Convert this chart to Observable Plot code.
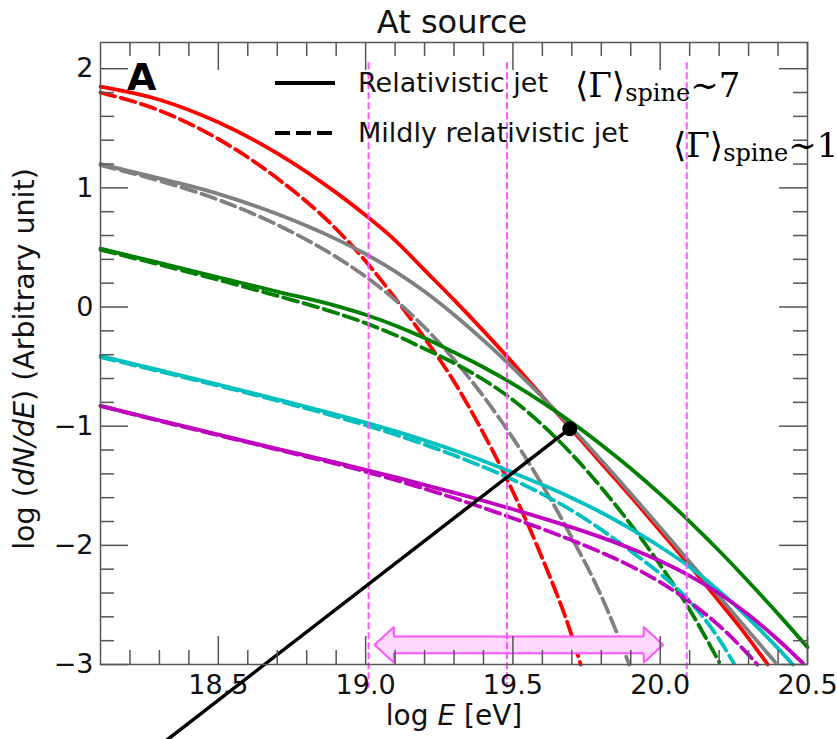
<!DOCTYPE html>
<html>
<head>
<meta charset="utf-8">
<script src="https://cdn.jsdelivr.net/npm/d3@7"></script>
<script src="https://cdn.jsdelivr.net/npm/@observablehq/plot@0.6"></script>
<style>
  html, body { margin: 0; padding: 0; background: #fff; overflow: hidden; }
  #chart svg { display: block; }
</style>
</head>
<body>
<div id="chart"></div>
<script>
// Spectra at the source: log(dN/dE) against log E, for each composition,
// relativistic (solid) and mildly relativistic (dashed) jets.
const redSolid = [[18.1,1.85],[18.3,1.74],[18.5,1.55],[18.7,1.29],[18.9,0.96],[19.0,0.77],[19.1,0.56],[19.2,0.31],[19.3,0.06],[19.4,-0.20],[19.5,-0.47],[19.6,-0.75],[19.7,-1.03],[19.8,-1.31],[19.9,-1.59],[20.0,-1.88],[20.1,-2.17],[20.2,-2.47],[20.3,-2.78],[20.365,-3.0]];
const redDashed = [[18.1,1.80],[18.3,1.65],[18.5,1.41],[18.7,1.08],[18.9,0.655],[19.0,0.385],[19.1,0.075],[19.2,-0.26],[19.3,-0.625],[19.4,-1.06],[19.5,-1.55],[19.6,-2.11],[19.7,-2.76],[19.73,-3.0]];
const graySolid = [[18.1,1.20],[18.3,1.08],[18.5,0.95],[18.7,0.78],[18.9,0.57],[19.0,0.445],[19.1,0.30],[19.2,0.13],[19.3,-0.065],[19.4,-0.28],[19.5,-0.51],[19.6,-0.755],[19.7,-1.015],[19.8,-1.285],[19.9,-1.565],[20.0,-1.85],[20.1,-2.14],[20.2,-2.43],[20.3,-2.72],[20.39,-2.98]];
const grayDashed = [[18.1,1.19],[18.3,1.06],[18.5,0.90],[18.7,0.69],[18.9,0.42],[19.0,0.255],[19.1,0.06],[19.2,-0.17],[19.3,-0.44],[19.4,-0.75],[19.5,-1.10],[19.6,-1.495],[19.7,-1.935],[19.8,-2.425],[19.895,-3.0]];
const greenSolid = [[18.1,0.49],[18.3,0.37],[18.5,0.25],[18.7,0.13],[18.9,0.01],[19.0,-0.065],[19.1,-0.155],[19.2,-0.26],[19.3,-0.38],[19.4,-0.505],[19.5,-0.645],[19.6,-0.80],[19.7,-0.97],[19.8,-1.155],[19.9,-1.355],[20.0,-1.57],[20.1,-1.80],[20.2,-2.045],[20.3,-2.305],[20.4,-2.575],[20.5,-2.855]];
const greenDashed = [[18.1,0.48],[18.3,0.356],[18.5,0.228],[18.7,0.094],[18.9,-0.05],[19.0,-0.135],[19.1,-0.235],[19.2,-0.35],[19.3,-0.47],[19.4,-0.61],[19.5,-0.78],[19.6,-0.99],[19.7,-1.235],[19.8,-1.515],[19.9,-1.825],[20.0,-2.165],[20.1,-2.54],[20.2,-2.98]];
const cyanSolid = [[18.1,-0.41],[18.3,-0.53],[18.5,-0.65],[18.7,-0.774],[18.9,-0.902],[19.0,-0.97],[19.1,-1.042],[19.2,-1.119],[19.3,-1.202],[19.4,-1.292],[19.5,-1.39],[19.6,-1.492],[19.7,-1.602],[19.8,-1.724],[19.9,-1.862],[20.0,-2.012],[20.1,-2.182],[20.2,-2.382],[20.3,-2.612],[20.4,-2.865],[20.45,-3.0]];
const cyanDashed = [[18.1,-0.42],[18.3,-0.54],[18.5,-0.66],[18.7,-0.786],[18.9,-0.92],[19.0,-0.992],[19.1,-1.07],[19.2,-1.154],[19.3,-1.244],[19.4,-1.342],[19.5,-1.45],[19.6,-1.57],[19.7,-1.708],[19.8,-1.868],[19.9,-2.048],[20.0,-2.238],[20.1,-2.468],[20.2,-2.788],[20.25,-2.99]];
const magentaSolid = [[18.1,-0.83],[18.3,-0.95],[18.5,-1.07],[18.7,-1.19],[18.9,-1.306],[19.0,-1.366],[19.1,-1.428],[19.2,-1.492],[19.3,-1.558],[19.4,-1.626],[19.5,-1.697],[19.6,-1.771],[19.7,-1.849],[19.8,-1.933],[19.9,-2.026],[20.0,-2.132],[20.1,-2.256],[20.2,-2.404],[20.3,-2.582],[20.4,-2.792],[20.485,-2.99]];
const magentaDashed = [[18.1,-0.83],[18.3,-0.956],[18.5,-1.076],[18.7,-1.196],[18.9,-1.316],[19.0,-1.381],[19.1,-1.451],[19.2,-1.525],[19.3,-1.603],[19.4,-1.685],[19.5,-1.772],[19.6,-1.862],[19.7,-1.957],[19.8,-2.059],[19.9,-2.174],[20.0,-2.309],[20.1,-2.474],[20.2,-2.674],[20.3,-2.919],[20.33,-3.0]];

// Energy markers, the highlighted range and the pointer.
const cutEnergies = [19.01, 19.48, 20.09];
const rangeSpan = [19.03, 20.01];
const rangeLevel = -2.835;
const pointerHead = [19.693, -1.021];
const pointerTail = [18.28, -3.72];

// Axis ticks and labels.
const xDomain = [18.1, 20.5];
const yDomain = [-3, 2.22];
const xMajor = [18.5, 19.0, 19.5, 20.0, 20.5];
const yMajor = [-3, -2, -1, 0, 1, 2];
const xMinor = d3.range(182, 205).filter(d => d % 5 !== 0).map(d => d / 10);
const yMinor = d3.range(-14, 11).filter(d => d % 5 !== 0).map(d => d / 5);

const legendLabels = ["Relativistic jet", "Mildly relativistic jet"];
const gammaValues = ["7", "1"];

// Layout
const W = 837, H = 739;
const margin = {top: 42, right: 30, bottom: 75, left: 100};
const innerW = W - margin.left - margin.right;
const innerH = H - margin.top - margin.bottom;
const axisColor = "#555";
const pink = "#ff55ff";
const dashed = "15,6";
const lw = 3.8;

const series = [
  {data: redSolid, color: "#ff0000", dash: null},
  {data: redDashed, color: "#ff0000", dash: dashed},
  {data: graySolid, color: "#808080", dash: null},
  {data: grayDashed, color: "#808080", dash: dashed},
  {data: greenSolid, color: "#008000", dash: null},
  {data: greenDashed, color: "#008000", dash: dashed},
  {data: cyanSolid, color: "#00bfbf", dash: null},
  {data: cyanDashed, color: "#00bfbf", dash: dashed},
  {data: magentaSolid, color: "#bf00bf", dash: null},
  {data: magentaDashed, color: "#bf00bf", dash: dashed}
];

// Outline of the double-headed block arrow spanning rangeSpan.
const headLen = 0.066, headHalf = 0.15, shaftHalf = 0.07;
const [a0, a1] = rangeSpan, ay = rangeLevel;
const arrowOutline = [
  [a0, ay], [a0 + headLen, ay + headHalf], [a0 + headLen, ay + shaftHalf],
  [a1 - headLen, ay + shaftHalf], [a1 - headLen, ay + headHalf], [a1, ay],
  [a1 - headLen, ay - headHalf], [a1 - headLen, ay - shaftHalf],
  [a0 + headLen, ay - shaftHalf], [a0 + headLen, ay - headHalf], [a0, ay]
];

const fmtY = d => d < 0 ? "\u2212" + Math.abs(d) : String(d);

const chart = Plot.plot({
  width: W,
  height: H,
  marginTop: margin.top,
  marginRight: margin.right,
  marginBottom: margin.bottom,
  marginLeft: margin.left,
  style: {fontFamily: "'DejaVu Sans', sans-serif", fontSize: "27px", color: "#111", background: "#fff"},
  x: {domain: xDomain},
  y: {domain: yDomain},
  marks: [
    ...series.map(s => Plot.line(s.data, {
      x: d => d[0], y: d => d[1], stroke: s.color, strokeWidth: lw,
      strokeDasharray: s.dash, curve: "monotone-x"
    })),
    Plot.line(arrowOutline, {x: d => d[0], y: d => d[1], fill: "#ffd8ff", stroke: pink, strokeWidth: 2, strokeLinejoin: "miter"}),
    Plot.ruleX(cutEnergies, {x: d => d, y1: 2.05, y2: -3.2, stroke: pink, strokeWidth: 2, strokeDasharray: "7,3"}),
    Plot.line([pointerTail, pointerHead], {x: d => d[0], y: d => d[1], stroke: "#000", strokeWidth: 3.5}),
    Plot.dot([pointerHead], {x: d => d[0], y: d => d[1], r: 7.5, fill: "#000"}),
    // inward ticks on all four sides
    Plot.tickX(xMajor, {x: d => d, stroke: axisColor, strokeWidth: 1.5, insetTop: innerH - 28}),
    Plot.tickX(xMinor, {x: d => d, stroke: axisColor, strokeWidth: 1.5, insetTop: innerH - 14}),
    Plot.tickX(xMajor, {x: d => d, stroke: axisColor, strokeWidth: 1.5, insetBottom: innerH - 28}),
    Plot.tickX(xMinor, {x: d => d, stroke: axisColor, strokeWidth: 1.5, insetBottom: innerH - 14}),
    Plot.tickY(yMajor, {y: d => d, stroke: axisColor, strokeWidth: 1.5, insetRight: innerW - 28}),
    Plot.tickY(yMinor, {y: d => d, stroke: axisColor, strokeWidth: 1.5, insetRight: innerW - 14}),
    Plot.tickY(yMajor, {y: d => d, stroke: axisColor, strokeWidth: 1.5, insetLeft: innerW - 28}),
    Plot.tickY(yMinor, {y: d => d, stroke: axisColor, strokeWidth: 1.5, insetLeft: innerW - 14}),
    Plot.axisX({ticks: xMajor, tickSize: 0, tickPadding: 10, tickFormat: d3.format(".1f"), label: null, fontSize: 27}),
    Plot.axisY({ticks: yMajor, tickSize: 0, tickPadding: 7, tickFormat: fmtY, label: null, fontSize: 27}),
    Plot.frame({stroke: axisColor, strokeWidth: 1.5})
  ]
});

document.getElementById("chart").appendChild(chart);

// Titles, axis labels, panel letter and legend.
const svg = d3.select(chart);
const ink = "#111";

svg.append("text")
  .attr("x", 452).attr("y", 33).attr("text-anchor", "middle")
  .attr("font-size", 32).attr("fill", ink).text("At source");

const xl = svg.append("text")
  .attr("x", 454).attr("y", 725).attr("text-anchor", "middle")
  .attr("font-size", 28).attr("fill", ink);
xl.append("tspan").text("log ");
xl.append("tspan").attr("font-style", "italic").text("E");
xl.append("tspan").text(" [eV]");

const yl = svg.append("text")
  .attr("transform", "translate(34,359) rotate(-90)").attr("text-anchor", "middle")
  .attr("font-size", 28.5).attr("fill", ink);
yl.append("tspan").text("log (");
yl.append("tspan").attr("font-style", "italic").text("dN/dE");
yl.append("tspan").text(") (Arbitrary unit)");

svg.append("text")
  .attr("x", 127).attr("y", 90).attr("text-anchor", "start")
  .attr("font-size", 38).attr("font-weight", "bold").attr("fill", "#000").text("A");

// legend samples
[null, dashed].forEach((dash, i) => {
  const y = 83 + i * 50;
  svg.append("line")
    .attr("x1", 275).attr("x2", 335).attr("y1", y).attr("y2", y)
    .attr("stroke", "#000").attr("stroke-width", 4)
    .attr("stroke-dasharray", dash);
  svg.append("text")
    .attr("x", 358).attr("y", y + 9).attr("text-anchor", "start")
    .attr("font-size", 27).attr("fill", ink).text(legendLabels[i]);
});

// mean spine Lorentz factor annotations
[[575, 97], [673, 157]].forEach(([x, y], i) => {
  const t = svg.append("text")
    .attr("x", x).attr("y", y).attr("text-anchor", "start")
    .attr("font-family", "'DejaVu Serif', 'Liberation Serif', serif")
    .attr("fill", "#000");
  t.append("tspan").attr("font-size", 34).text("\u27E8\u0393\u27E9");
  t.append("tspan").attr("font-size", 24).attr("dy", 4).text("spine");
  t.append("tspan").attr("font-size", 34).attr("dy", -4).text("\u223C" + gammaValues[i]);
});
</script>
</body>
</html>
